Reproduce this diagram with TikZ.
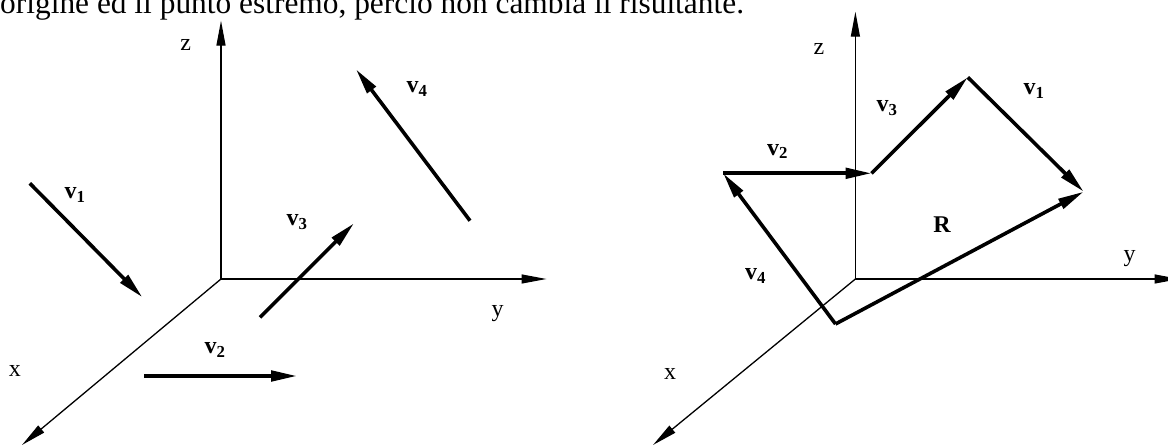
\documentclass[tikz,border=0pt]{standalone}
\usepackage{fontspec}
\setmainfont{Liberation Serif}
\usetikzlibrary{arrows.meta}
\begin{document}
\begin{tikzpicture}[x=1pt,y=-1pt,
  axis/.style={line width=1.3pt,-{Triangle[length=25pt,width=9pt]}},
  vec/.style={line width=3.6pt,-{Triangle[length=26pt,width=10.5pt]}},
  seg/.style={line width=3.6pt},
  lbl/.style={inner sep=0pt,font=\fontsize{24}{28}\selectfont},
  vlbl/.style={inner sep=0pt,font=\fontsize{24}{28}\selectfont\bfseries}]
\useasboundingbox (0,0) rectangle (1168,446);
\clip (0,0) rectangle (1168,446);
\node[anchor=base west,inner sep=0pt,font=\fontsize{31.4}{36}\selectfont] (caption) at (0,13.5) {origine ed il punto estremo, perciò non cambia il risultante.};

% ---------- left panel ----------
\coordinate (O1) at (221,279);
\coordinate (Z1) at (221,20.7);
\coordinate (Y1) at (546.5,279);
\coordinate (X1) at (22,445);
\draw[axis] (O1) -- (Z1);
\draw[axis] (O1) -- (Y1);
\draw[axis] (O1) -- (X1);
\node[lbl] (z1) at (185.6,45) {z};
\node[lbl] (y1) at (497.5,314) {y};
\node[lbl] (x1) at (15,371) {x};

\coordinate (a1s) at (29.8,183.3);
\coordinate (a1e) at (142.4,297.3);
\coordinate (a2s) at (144,376);
\coordinate (a2e) at (297,376);
\coordinate (a3s) at (260,317.3);
\coordinate (a3e) at (354,223.3);
\coordinate (a4s) at (470,220.7);
\coordinate (a4e) at (356,69.3);
\draw[vec] (a1s) -- (a1e);
\draw[vec] (a2s) -- (a2e);
\draw[vec] (a3s) -- (a3e);
\draw[vec] (a4s) -- (a4e);
\node[vlbl] (lv1) at (75,195) {v\textsubscript{1}};
\node[vlbl] (lv2) at (215,350) {v\textsubscript{2}};
\node[vlbl] (lv3) at (297,222) {v\textsubscript{3}};
\node[vlbl] (lv4) at (417,89) {v\textsubscript{4}};

% ---------- right panel ----------
\coordinate (O2) at (855.4,279);
\coordinate (Z2) at (855.4,11.7);
\coordinate (Y2) at (1179.5,279);
\coordinate (X2) at (653,445);
\draw[axis] (O2) -- (Z2);
\draw[axis] (O2) -- (Y2);
\draw[axis] (O2) -- (X2);
\node[lbl] (z2) at (819,48.5) {z};
\node[lbl] (y2) at (1129.5,259) {y};
\node[lbl] (x2) at (670,374) {x};

\coordinate (P0) at (835.5,324);
\coordinate (P1) at (723.2,173.3);
\coordinate (P2) at (871.5,173.3);
\coordinate (P3) at (967.8,77.3);
\coordinate (P4) at (1083.7,191.7);
\draw[vec] (P0) -- (P1);
\draw[vec] (P1) -- (P2);
\draw[vec] (P2) -- (P3);
\draw[vec] (P3) -- (P4);
\draw[vec] (P0) -- (P4);
\node[vlbl] (rv2) at (777.5,151.5) {v\textsubscript{2}};
\node[vlbl] (rv3) at (887,108) {v\textsubscript{3}};
\node[vlbl] (rv1) at (1034,91) {v\textsubscript{1}};
\node[vlbl] (rv4) at (755.5,276) {v\textsubscript{4}};
\node[vlbl] (rR) at (942,225) {R};
\end{tikzpicture}
\end{document}
